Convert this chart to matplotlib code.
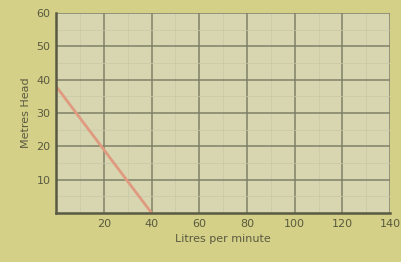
import matplotlib.pyplot as plt

# flow (litres per minute) vs head (metres)
flow = [0, 40]
head = [38, 0]

x_ticks = [20, 40, 60, 80, 100, 120, 140]
y_ticks = [10, 20, 30, 40, 50, 60]

fig = plt.figure(figsize=(4.01, 2.62), dpi=100, facecolor="#d4d088")
ax = fig.add_axes([0.14, 0.187, 0.833, 0.763], facecolor="#d7d6b0")

ax.plot(flow, head, color="#e09a80", lw=2)

ax.set_xlim(0, 140)
ax.set_ylim(0, 60)
ax.set_xticks(x_ticks)
ax.set_yticks(y_ticks)
ax.set_xticks(range(0, 141, 10), minor=True)
ax.set_yticks(range(0, 61, 5), minor=True)
ax.grid(which="major", color="#808068", lw=1.1)
ax.grid(which="minor", color="#cac9a8", lw=0.5)
ax.set_axisbelow(True)
ax.tick_params(which="both", length=0, labelsize=8, colors="#5a5a40", pad=4)

for side in ["top", "right"]:
    ax.spines[side].set_visible(False)
ax.spines["left"].set_color("#5a5a44")
ax.spines["bottom"].set_color("#5a5a44")
ax.spines["left"].set_linewidth(1.8)
ax.spines["bottom"].set_linewidth(1.8)

ax.set_xlabel("Litres per minute", fontsize=8, color="#5a5a40", labelpad=4)
ax.set_ylabel("Metres Head", fontsize=8, color="#5a5a40", labelpad=4)

fig.savefig("out.png", dpi=100, facecolor=fig.get_facecolor())
